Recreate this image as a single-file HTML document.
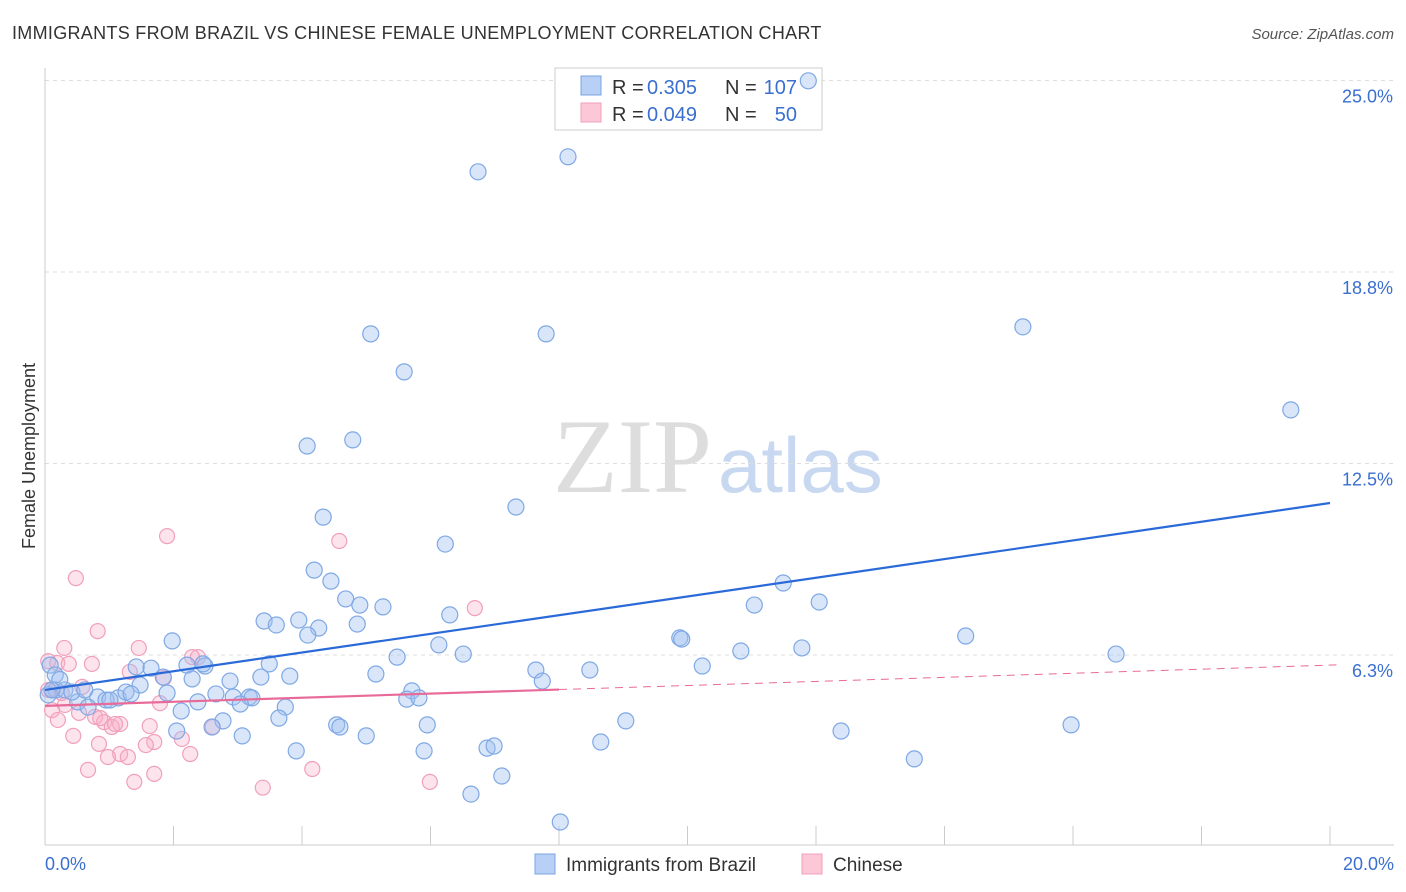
<!DOCTYPE html>
<html><head><meta charset="utf-8">
<style>
body{margin:0;background:#fff;font-family:"Liberation Sans",sans-serif;}
#c{position:relative;width:1406px;height:892px;overflow:hidden;}
</style></head>
<body>
<div id="c">
<svg id="s" width="1406" height="892" xmlns="http://www.w3.org/2000/svg">
<text x="12" y="39" font-size="18" fill="#333" letter-spacing="0.3">IMMIGRANTS FROM BRAZIL VS CHINESE FEMALE UNEMPLOYMENT CORRELATION CHART</text>
<text x="1394" y="39" font-size="15" fill="#555" font-style="italic" text-anchor="end">Source: ZipAtlas.com</text>
<text x="35" y="456" font-size="18" fill="#333" text-anchor="middle" transform="rotate(-90 35 456)">Female Unemployment</text>
<text x="553" y="492" font-size="106" fill="#ddd" font-family="Liberation Serif,serif">ZIP</text>
<text x="718" y="492" font-size="78" fill="#c8d8f0">atlas</text>
<g id="grid"></g>
<g>
<rect x="555" y="68" width="267" height="62" fill="#fff" stroke="#ccc"/>
<rect x="581" y="76" width="20" height="19" fill="#b8d0f5" stroke="#7aa4e0"/>
<rect x="581" y="103" width="20" height="19" fill="#fcc8d8" stroke="#f0a0b8"/>
<text x="612" y="94" font-size="20" fill="#333">R =</text>
<text x="647" y="94" font-size="20" fill="#3a6fd0">0.305</text>
<text x="725" y="94" font-size="20" fill="#333">N =</text>
<text x="797" y="94" font-size="20" fill="#3a6fd0" text-anchor="end">107</text>
<text x="612" y="121" font-size="20" fill="#333">R =</text>
<text x="647" y="121" font-size="20" fill="#3a6fd0">0.049</text>
<text x="725" y="121" font-size="20" fill="#333">N =</text>
<text x="797" y="121" font-size="20" fill="#3a6fd0" text-anchor="end">50</text>
</g>
<g id="pts"></g><g id="lines"></g>
<g>
<rect x="535" y="854" width="20" height="20" fill="#b8d0f5" stroke="#7aa4e0"/>
<text x="566" y="871" font-size="19" fill="#333">Immigrants from Brazil</text>
<rect x="802" y="854" width="20" height="20" fill="#fcc8d8" stroke="#f0a0b8"/>
<text x="833" y="871" font-size="19" fill="#333">Chinese</text>
</g>
</svg>
</div>
<script>
const yTicks=[6.25,12.5,18.75,25];
const yTickLabels=["6.3%","12.5%","18.8%","25.0%"];
const xTicks=[0,2,4,6,8,10,12,14,16,18,20];
const xTickLabels=["0.0%","20.0%"];
const brazilX=[11.88,8.14,6.74,15.22,5.07,7.80,5.59,19.39,4.79,4.08,7.33,4.33,6.23,4.19,4.45,11.49,4.68,4.90,11.04,12.05,5.26,6.30,3.41,3.60,3.95,4.26,4.86,4.09,1.98,6.13,9.88,9.91,14.33,10.83,11.78,6.51,16.67,5.48,2.21,2.49,3.49,1.42,1.65,2.46,7.64,8.48,10.23,5.15,1.84,2.29,2.88,3.36,3.81,7.74,1.48,1.90,2.66,2.93,3.18,3.22,5.71,5.63,5.82,0.17,0.31,0.82,1.14,1.26,1.34,0.95,2.12,2.38,3.04,3.74,0.51,0.67,2.77,3.64,2.60,4.54,4.59,5.95,9.04,15.97,2.05,3.07,5.00,12.39,8.65,6.88,6.99,3.91,5.90,13.53,7.11,6.63,8.02,0.08,0.16,0.05,0.23,0.42,1.01,0.62,0.11];
const brazilY=[24.99,22.51,22.02,16.96,16.73,16.73,15.49,14.25,13.27,13.07,11.08,10.75,9.87,9.02,8.66,8.60,8.08,7.88,7.88,7.98,7.82,7.56,7.36,7.23,7.39,7.13,7.26,6.90,6.71,6.58,6.81,6.77,6.87,6.38,6.48,6.28,6.28,6.18,5.92,5.89,5.96,5.86,5.82,5.96,5.76,5.76,5.89,5.63,5.53,5.47,5.40,5.53,5.56,5.40,5.27,5.01,4.98,4.88,4.88,4.85,5.08,4.81,4.85,5.11,5.11,4.88,4.85,5.04,4.98,4.78,4.42,4.72,4.65,4.55,4.72,4.55,4.10,4.19,3.90,3.97,3.90,3.97,4.10,3.97,3.77,3.61,3.61,3.77,3.41,3.21,3.28,3.12,3.12,2.86,2.30,1.71,0.80,5.92,5.60,4.95,5.45,5.04,4.78,5.11,5.11];
const chineseX=[1.90,4.58,0.48,0.82,6.69,0.30,1.46,0.05,0.19,0.37,0.73,1.32,2.38,2.29,1.85,0.58,0.11,0.26,0.11,0.31,0.53,0.78,0.92,1.04,1.17,0.20,0.86,1.63,1.79,2.61,0.44,0.84,1.09,1.70,2.13,1.57,1.17,1.29,0.98,2.26,0.67,1.70,1.39,3.39,4.16,5.99,0.05];
const chineseY=[10.13,9.97,8.76,7.03,7.78,6.48,6.48,6.05,5.99,5.96,5.96,5.70,6.18,6.18,5.50,5.21,5.11,5.01,4.45,4.62,4.36,4.23,4.06,3.90,4.00,4.13,4.19,3.93,4.68,3.90,3.61,3.35,4.00,3.41,3.51,3.31,3.02,2.92,2.92,3.02,2.50,2.37,2.11,1.92,2.53,2.11,5.11];
const brazilTrend=[5.11,11.21];
const chineseTrend=[4.59,5.92];
const chineseSolidEnd=8.0;

const NS="http://www.w3.org/2000/svg";
const X=v=>45+v*64.25, Y=v=>846.5-v*30.64;
function mk(tag,attrs,parent){const e=document.createElementNS(NS,tag);for(const k in attrs)e.setAttribute(k,attrs[k]);parent.appendChild(e);return e;}
const grid=document.getElementById('grid'),pts=document.getElementById('pts'),lines=document.getElementById('lines');
yTicks.forEach((t,i)=>{
 const l=mk('line',{x1:45,x2:1394,y1:Y(t),y2:Y(t),stroke:'#ddd','stroke-dasharray':'4,4'},grid);
 
 
 const tx=mk('text',{x:1393,y:Y(t)+22,'font-size':18,fill:'#3a6fd0','text-anchor':'end'},grid);
 tx.textContent=yTickLabels[i];
 
 
});
const ax=mk('line',{x1:45,x2:1394,y1:845,y2:845,stroke:'#ccc'},grid);


const ay=mk('line',{x1:45,x2:45,y1:68,y2:845,stroke:'#ccc'},grid);


xTicks.forEach(t=>{
 const l=mk('line',{x1:X(t),x2:X(t),y1:826,y2:845,stroke:'#ccc'},grid);
 
 
});
[[0,'start',xTickLabels[0]],[20,'end',xTickLabels[1]]].forEach(a=>{
 const tx=mk('text',{x:a[0]===0?45:1394,y:870,'font-size':18,fill:'#3a6fd0','text-anchor':a[1]},grid);
 tx.textContent=a[2];
 
 
});
chineseX.forEach((x,i)=>{
 const c=mk('circle',{cx:X(x),cy:Y(chineseY[i]),r:7.5,fill:'rgba(248,175,200,0.35)',stroke:'#f0a0bc','stroke-width':1.2},pts);
 
 
});
brazilX.forEach((x,i)=>{
 const c=mk('circle',{cx:X(x),cy:Y(brazilY[i]),r:8,fill:'rgba(160,192,240,0.4)',stroke:'#7fa8e4','stroke-width':1.2},pts);
 
 
});
const bl=mk('line',{x1:X(0),y1:Y(brazilTrend[0]),x2:X(20),y2:Y(brazilTrend[1]),stroke:'#2a6ad8','stroke-width':2.2},lines);


const cAt=x=>chineseTrend[0]+(chineseTrend[1]-chineseTrend[0])*x/20;
const cl=mk('line',{x1:X(0),y1:Y(cAt(0)),x2:X(chineseSolidEnd),y2:Y(cAt(chineseSolidEnd)),stroke:'#e86a98','stroke-width':2.2},lines);


const cd=mk('line',{x1:X(chineseSolidEnd),y1:Y(cAt(chineseSolidEnd)),x2:X(20.1),y2:Y(cAt(20.1)),stroke:'#e86a98','stroke-width':1,'stroke-dasharray':'8,6'},lines);


</script>
</body></html>
